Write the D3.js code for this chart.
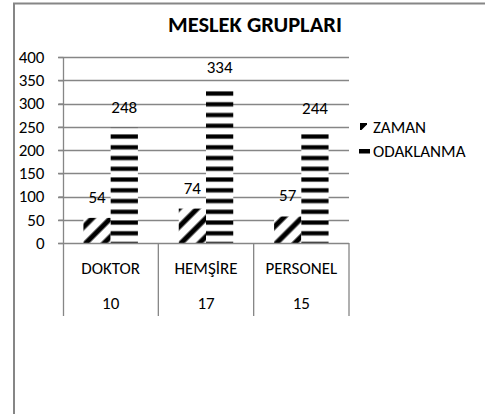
<!DOCTYPE html>
<html>
<head>
<meta charset="utf-8">
<script src="https://cdn.jsdelivr.net/npm/d3@7"></script>
<style>
  body { margin: 0; background: #fff; }
  text { font-family: Carlito, Calibri, Lato, sans-serif; fill: #000; }
</style>
</head>
<body>
<svg id="chart" width="485" height="414"></svg>
<script>
const categories = ['DOKTOR', 'HEMŞİRE', 'PERSONEL'];
const counts = ['10', '17', '15'];
const seriesNames = ['ZAMAN', 'ODAKLANMA'];
const zaman = [54, 74, 57];
const odaklanma = [248, 334, 244];
const yTicks = [0, 50, 100, 150, 200, 250, 300, 350, 400];

const grid = '#868686';
const fs = '17px';
const svg = d3.select('#chart');

// frame (only left and top edges are inside the picture)
svg.append('line').attr('x1', 14).attr('x2', 14).attr('y1', 3).attr('y2', 414)
  .attr('stroke', grid).attr('stroke-width', 2);
svg.append('line').attr('x1', 13).attr('x2', 485).attr('y1', 3.5).attr('y2', 3.5)
  .attr('stroke', grid).attr('stroke-width', 2);

svg.append('text').attr('x', 255).attr('y', 32).attr('text-anchor', 'middle')
  .style('font-size', '22.5px').style('font-weight', 'bold').text('MESLEK GRUPLARI');

const y = d3.scaleLinear().domain([0, 400]).range([243, 57]);
const x = d3.scaleBand().domain(categories).range([63, 349]);
const xs = d3.scaleBand().domain(seriesNames).range([0, x.bandwidth()])
  .paddingInner(0).paddingOuter(0.75);

// patterns
const defs = svg.append('defs');
const diag = defs.append('pattern').attr('id', 'pZaman')
  .attr('patternUnits', 'userSpaceOnUse').attr('width', 13).attr('height', 13)
  .attr('patternTransform', 'rotate(45)');
diag.append('rect').attr('width', 13).attr('height', 13).attr('fill', '#fff');
diag.append('rect').attr('x', 3).attr('width', 6).attr('height', 13).attr('fill', '#888');
diag.append('rect').attr('x', 3.8).attr('width', 4.4).attr('height', 13).attr('fill', '#000');

const period = 10.75;
const hor = defs.append('pattern').attr('id', 'pOdak')
  .attr('patternUnits', 'userSpaceOnUse').attr('width', 10).attr('height', period)
  .attr('y', y(0) - 9.7 - 2.5);
hor.append('rect').attr('width', 10).attr('height', period).attr('fill', '#fff');
hor.append('rect').attr('y', 0).attr('width', 10).attr('height', 5).attr('fill', '#888');
hor.append('rect').attr('y', 0.7).attr('width', 10).attr('height', 3.6).attr('fill', '#000');

// gridlines
svg.append('g').selectAll('line').data(yTicks.filter(d => d > 0)).enter().append('line')
  .attr('x1', 58).attr('x2', 349)
  .attr('y1', d => Math.round(y(d)) + 0.5).attr('y2', d => Math.round(y(d)) + 0.5)
  .attr('stroke', grid).attr('stroke-width', 1.3);

// y axis
const yAxis = svg.append('g').attr('transform', 'translate(63.5,0)')
  .call(d3.axisLeft(y).tickValues(yTicks).tickSize(5).tickSizeOuter(0).tickPadding(14));
yAxis.select('.domain').remove();
yAxis.selectAll('line').attr('stroke', grid).attr('stroke-width', 1.3);
yAxis.selectAll('text').style('font-size', fs).attr('fill', '#000');

// bars
const rows = categories.map((c, i) => ({ cat: c, vals: [zaman[i], odaklanma[i]] }));
const groups = svg.append('g').selectAll('g').data(rows).enter().append('g')
  .attr('transform', d => `translate(${x(d.cat)},0)`);
groups.selectAll('rect').data(d => d.vals.map((v, j) => ({ s: seriesNames[j], v }))).enter()
  .append('rect')
  .attr('x', d => xs(d.s)).attr('width', xs.bandwidth())
  .attr('y', d => y(d.v)).attr('height', d => y(0) - y(d.v))
  .attr('fill', d => d.s === 'ZAMAN' ? 'url(#pZaman)' : 'url(#pOdak)');
groups.selectAll('text').data(d => d.vals.map((v, j) => ({ s: seriesNames[j], v }))).enter()
  .append('text')
  .attr('x', d => xs(d.s) + xs.bandwidth() / 2).attr('y', d => y(d.v) - 21)
  .attr('dy', '0.35em').attr('text-anchor', 'middle').style('font-size', fs)
  .text(d => d.v);

// axis lines and category table
svg.append('line').attr('x1', 63.5).attr('x2', 63.5).attr('y1', y(400)).attr('y2', 316)
  .attr('stroke', grid).attr('stroke-width', 1.3);
svg.append('line').attr('x1', 58).attr('x2', 349).attr('y1', y(0) + 0.5).attr('y2', y(0) + 0.5)
  .attr('stroke', grid).attr('stroke-width', 1.3);
svg.append('g').selectAll('line').data(categories.slice(1).concat(['end'])).enter().append('line')
  .attr('x1', d => d === 'end' ? x.range()[1] : x(d))
  .attr('x2', d => d === 'end' ? x.range()[1] : x(d))
  .attr('y1', y(0)).attr('y2', 316)
  .attr('stroke', grid).attr('stroke-width', 1.3);
svg.append('g').selectAll('text').data(categories).enter().append('text')
  .attr('x', d => x(d) + x.bandwidth() / 2).attr('y', 268).attr('dy', '0.35em')
  .attr('text-anchor', 'middle').style('font-size', fs).text(d => d);
svg.append('g').selectAll('text').data(counts).enter().append('text')
  .attr('x', (d, i) => x(categories[i]) + x.bandwidth() / 2).attr('y', 303).attr('dy', '0.35em')
  .attr('text-anchor', 'middle').style('font-size', fs).text(d => d);

// legend
const legend = svg.append('g').attr('transform', 'translate(359,0)');
legend.append('path').attr('d', 'M1,123 h7 v1.5 l-5.5,5.5 h-1.5 z').attr('fill', '#000');
legend.append('rect').attr('x', 0).attr('y', 149).attr('width', 11).attr('height', 4.5).attr('fill', '#000');
legend.selectAll('text').data(seriesNames).enter().append('text')
  .attr('x', 14).attr('y', (d, i) => 127 + i * 24).attr('dy', '0.35em')
  .style('font-size', fs).text(d => d);
</script>
</body>
</html>
